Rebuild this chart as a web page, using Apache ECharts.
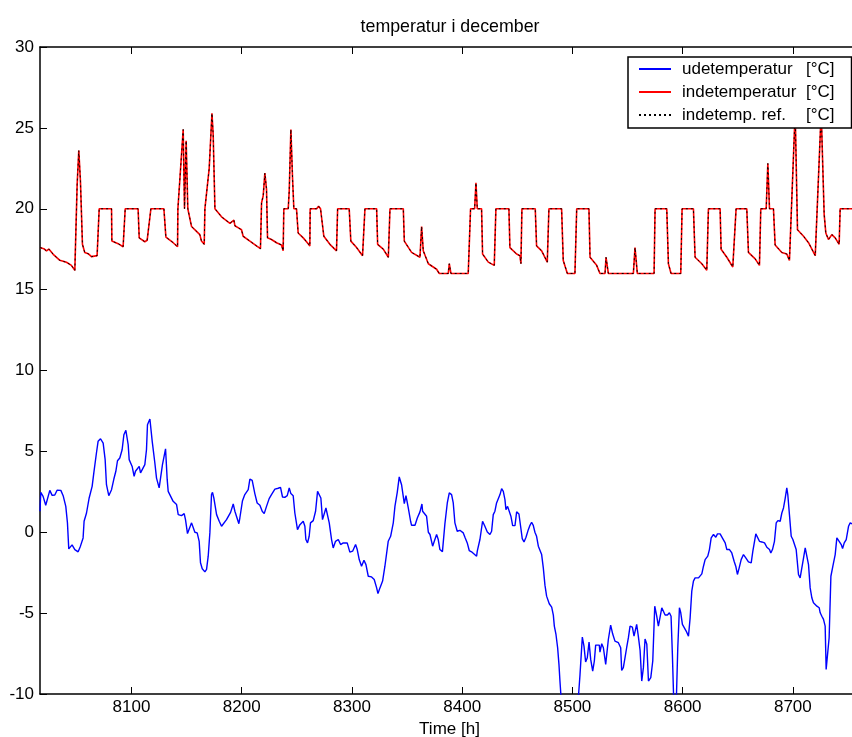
<!DOCTYPE html>
<html>
<head>
<meta charset="utf-8">
<title>temperatur i december</title>
<script src="https://cdn.jsdelivr.net/npm/echarts@6/dist/echarts.min.js"></script>
<style>
  html, body { margin: 0; padding: 0; background: #fff; }
  #chart { width: 852px; height: 737px; }
</style>
</head>
<body>
<div id="chart"></div>
<script>
// Hour of the year (December = 8017 .. 8760) and temperatures in °C.
const outdoorHours = [
  8017, 8017.7, 8019.8, 8022.2, 8025.9, 8028, 8030.4, 8032.5, 8034.3, 8035.9,
  8038, 8040.4, 8041.9, 8043.1, 8044.6, 8046.1, 8048.6, 8051.6, 8053.7, 8056.1,
  8057, 8059.2, 8061.6, 8064.3, 8065.8, 8067, 8068.2, 8069.7, 8071.9, 8074.3,
  8076.1, 8077.3, 8079.4, 8081.9, 8084, 8085.8, 8087.3, 8089.4, 8091.5, 8093.1,
  8094.9, 8097, 8097.9, 8100.6, 8102.4, 8103.6, 8107, 8108.2, 8110, 8112.1,
  8113.6, 8114.5, 8116.7, 8118.8, 8121.2, 8122.7, 8125.1, 8126.3, 8128.1, 8130.9,
  8132.4, 8133.3, 8134.2, 8137.8, 8140.9, 8142.4, 8145.4, 8147.8, 8149, 8150.8,
  8152.4, 8154.5, 8156, 8157.5, 8159.6, 8161.4, 8162.6, 8164.2, 8166.6, 8168.1,
  8169.6, 8171.1, 8172.6, 8173.5, 8174.7, 8177.2, 8179.6, 8181.7, 8183.2, 8186.2,
  8189.9, 8192.3, 8193.8, 8197.4, 8198.3, 8200.7, 8202.8, 8205.9, 8207.4, 8209.5,
  8211.9, 8214, 8216.5, 8218.6, 8220.4, 8222.5, 8224.9, 8227, 8230.1, 8233.1,
  8235.2, 8237, 8239.1, 8241.3, 8243.1, 8244.6, 8246.7, 8248.2, 8250.6, 8252.8,
  8255.8, 8257.3, 8258.2, 8259.7, 8261.2, 8262.4, 8264.9, 8267, 8268.8, 8270,
  8271.8, 8273.3, 8274.5, 8276.4, 8278.2, 8279.4, 8281.5, 8283, 8285.1, 8287.6,
  8289.7, 8292.1, 8293.6, 8295.7, 8298.1, 8300.6, 8303.3, 8304.8, 8306.6, 8308.7,
  8310.9, 8312.7, 8314.8, 8317.8, 8320.2, 8322.4, 8323.6, 8325.4, 8327.8, 8329.9,
  8332.9, 8335.1, 8337.5, 8339, 8341.1, 8342.9, 8345, 8347.5, 8349, 8351.1,
  8353.2, 8354.1, 8357.2, 8359.3, 8361.7, 8363.5, 8364.1, 8367.7, 8369.3, 8370.8,
  8373.2, 8374.7, 8376.8, 8378.3, 8379.8, 8382.1, 8384.3, 8386.5, 8388.3, 8390.4,
  8391.9, 8393.4, 8395.5, 8397.9, 8401, 8402.5, 8404.6, 8406.4, 8408.5, 8410.1,
  8413.1, 8413.7, 8416.1, 8418.5, 8420.6, 8422.8, 8425.2, 8426.7, 8428.2, 8429.7,
  8431.2, 8432.7, 8434.3, 8435.8, 8437.3, 8438.8, 8439.7, 8441.2, 8442.7, 8444.2,
  8445.8, 8447.9, 8449.4, 8451.5, 8453, 8454.5, 8456.1, 8457.9, 8460, 8461.5,
  8463, 8464.5, 8466, 8467.5, 8469.1, 8472.1, 8473.6, 8475.1, 8476.6, 8479,
  8481.2, 8482.7, 8483.6, 8485.1, 8486.6, 8487.8, 8488.7, 8490.5, 8497, 8504.8,
  8506.9, 8509, 8510.5, 8512, 8513.5, 8515.1, 8516.6, 8518.4, 8519.9, 8521.1,
  8522.6, 8524.4, 8525, 8526.6, 8528.1, 8530.2, 8532.6, 8534.7, 8536.5, 8538.6,
  8541.7, 8543.8, 8544.7, 8546.2, 8547.7, 8549.2, 8550.8, 8552.3, 8554.4, 8555.9,
  8558.3, 8559.8, 8561.4, 8562.9, 8564.4, 8565.9, 8567.5, 8569, 8571.1, 8572.9,
  8574.7, 8576.5, 8578, 8579.5, 8581.1, 8582.6, 8584.1, 8586.2, 8588, 8589.5,
  8590.7, 8592, 8594.2, 8595.6, 8597.1, 8598.3, 8599.8, 8601.6, 8603.2, 8605.3,
  8606.8, 8608.3, 8609.8, 8611.3, 8614.4, 8617.4, 8618.9, 8620.4, 8622.8, 8624.3,
  8625.9, 8628, 8630.1, 8631.6, 8634, 8636.4, 8638.6, 8640.1, 8642.5, 8644.6,
  8646.7, 8648.2, 8649.7, 8651.3, 8653.1, 8655.2, 8657.3, 8659.7, 8662.2, 8663.7,
  8665.2, 8666.4, 8667.9, 8669.7, 8671.8, 8674.3, 8676.4, 8678.8, 8680, 8681.5,
  8683.3, 8684.9, 8686.4, 8688.5, 8690, 8691.5, 8693, 8694.5, 8695.4, 8696.9,
  8698.5, 8700, 8701.5, 8703, 8705.1, 8706.6, 8708.1, 8709.7, 8711.2, 8712.7,
  8714.2, 8715.7, 8717.2, 8718.7, 8721.8, 8723.9, 8724.8, 8726.3, 8727.8, 8729.3,
  8730.2, 8731.4, 8732.9, 8734.5, 8736.3, 8738.4, 8739.9, 8742, 8743.9, 8745.1,
  8746.6, 8748.4, 8750.5, 8752, 8753.8
];
const outdoorTemp = [
  1.3, 2.47, 2.22, 1.67, 2.59, 2.28, 2.3, 2.6, 2.53, 2.59,
  2.26, 1.6, 0.58, -1.03, -1.03, -0.78, -1.07, -1.21, -0.86, -0.35,
  0.68, 1.19, 2.12, 2.84, 3.66, 3.77, 4.9, 5.62, 5.78, 5.51,
  4.49, 2.94, 2.26, 2.63, 3.29, 3.77, 4.42, 4.59, 5.1, 6.03,
  6.3, 5.41, 4.49, 4.07, 3.46, 3.77, 4.07, 3.67, 3.56, 4.18,
  5.1, 6.65, 7.0, 5.62, 4.28, 3.35, 2.74, 2.74, 4.18, 5.16,
  3.25, 2.53, 2.63, 1.91, 1.71, 1.09, 1.03, 1.15, 0.78, -0.08,
  0, 0.58, 0.47, 0, -0.04, -0.56, -1.89, -2.26, -2.45, -2.3,
  -1.48, -0.04, 2.33, 2.47, 2.12, 1.09, 0.68, 0.37, 0.47, 0.78,
  1.23, 1.75, 1.3, 0.53, 0.88, 1.95, 2.33, 2.63, 3.29, 3.21,
  2.39, 1.81, 1.67, 1.3, 1.15, 1.6, 2.08, 2.33, 2.67, 2.72,
  2.78, 2.18, 2.16, 2.26, 2.74, 2.39, 2.26, 1.19, 0.16, 0.47,
  0.68, 0.37, -0.45, -0.66, -0.25, 0.58, 0.72, 1.3, 2.53, 2.63,
  2.12, 0.78, 0.74, 1.5, 1.6, 0.58, -0.45, -0.97, -0.56, -0.45,
  -0.76, -0.66, -0.62, -0.66, -1.23, -1.17, -0.76, -1.07, -1.69, -2.1,
  -1.73, -2.0, -2.72, -2.76, -2.92, -3.44, -3.79, -3.44, -3.02, -2.1,
  -0.56, -0.25, 0.58, 1.6, 2.47, 3.42, 2.94, 1.77, 2.26, 1.5,
  0.68, 0.43, 0.43, 0.88, 1.26, 1.75, 1.3, 0.99, 0, -0.14,
  -0.86, -0.56, -0.14, -0.45, -1.07, -1.2, 0.5, 1.81, 2.43, 2.33,
  1.81, 0.58, 0.06, 0.12, -0.04, -0.31, -0.66, -1.13, -1.21, -1.17,
  -1.48, -1.17, -0.45, 0.68, 0.37, 0.02, -0.14, 0.06, 1.09, 1.3,
  1.81, 1.81, 2.33, 2.7, 2.53, 2.02, 1.4, 1.6, 1.71, 0.99,
  0.41, 0.41, 1.26, 1.13, 0.37, -0.39, -0.6, -0.31, 0.16, 0.43,
  0.62, 0.43, 0, -0.25, -0.86, -1.38, -2.2, -3.27, -3.95, -4.42,
  -4.63, -5.12, -5.8, -6.32, -7.14, -8.17, -9.2, -11, -12, -10.8,
  -8.8, -6.48, -7.04, -8.02, -7.76, -6.79, -7.86, -8.58, -7.96, -6.98,
  -6.93, -6.98, -7.41, -6.89, -7.14, -8.17, -6.63, -5.74, -6.28, -6.73,
  -6.83, -7.14, -8.54, -8.37, -7.76, -7.14, -6.52, -5.8, -5.86, -6.42,
  -5.7, -6.42, -7.3, -9.2, -8.37, -6.6, -6.93, -9.2, -8.99, -7.96,
  -4.57, -5.19, -5.8, -5.8, -4.67, -4.71, -5.12, -5.12, -4.98, -5.19,
  -7.55, -10.6, -10.6, -7.14, -4.67, -4.98, -5.7, -5.8, -6.11, -6.42,
  -5.29, -3.64, -3.02, -2.82, -2.82, -2.57, -2.1, -1.69, -1.48, -1.07,
  -0.35, -0.14, -0.31, -0.1, -0.1, -0.39, -0.66, -1.07, -1.07, -1.28,
  -1.79, -2.1, -2.61, -2.2, -1.69, -1.38, -1.58, -1.83, -1.89, -1.17,
  -1.07, -0.1, -0.1, -0.56, -0.6, -0.66, -0.93, -1.07, -1.28, -1.07,
  -0.56, 0.58, 0.72, 0.68, 1.19, 1.5, 2.08, 2.74, 2.33, 1.09,
  -0.25, -0.45, -0.39, -1.07, -2.61, -2.82, -2.72, -1.58, -0.97, -1.01,
  -2.0, -3.44, -4.05, -4.36, -4.57, -4.67, -4.98, -5.19, -5.39, -5.8,
  -8.48, -8.37, -6.52, -2.72, -2.1, -1.38, -0.35, -0.56, -0.76, -1.01,
  -0.66, -0.45, 0.37, 0.58, 0.51
];

const indoorHours = [
  8017, 8020.4, 8022.9, 8025, 8029, 8035, 8041, 8045.5, 8048.6, 8050.7,
  8052.2, 8053.7, 8055.5, 8057.6, 8060.7, 8063.7, 8068.8, 8070.7, 8081.9, 8082.2,
  8087.9, 8092.4, 8094.3, 8106, 8107, 8112.1, 8114.2, 8117.6, 8129.4, 8131.2,
  8137.8, 8141.8, 8142.1, 8143.9, 8146.9, 8148.1, 8149.6, 8151.1, 8152.3, 8154.5,
  8159, 8162, 8163.5, 8166, 8166.6, 8168.1, 8170.5, 8173, 8174.1, 8175.7,
  8181.7, 8189.3, 8192.9, 8193.8, 8197.4, 8199.8, 8201.3, 8207.4, 8213.4, 8217,
  8218, 8219.5, 8221, 8222.5, 8223.4, 8227, 8231.6, 8236.1, 8237.6, 8238.2,
  8242.2, 8243.1, 8244.6, 8246.1, 8247.3, 8249.7, 8251.2, 8255.8, 8260.3, 8261.8,
  8262.1, 8268, 8269.7, 8271.5, 8274.5, 8280, 8286, 8287, 8297.5, 8299,
  8304.2, 8309.6, 8311.8, 8322.4, 8323.3, 8328.4, 8333, 8334.5, 8346.6, 8347.5,
  8354.1, 8361.7, 8363.2, 8364.7, 8369.3, 8376.8, 8379.2, 8387.4, 8388.3, 8389.8,
  8405.5, 8407.6, 8411.3, 8412.5, 8413.7, 8417.6, 8418.5, 8423.7, 8429.1, 8430.6,
  8442.4, 8443.3, 8449.4, 8452.4, 8453.3, 8454.2, 8466.3, 8467.5, 8472.1, 8477.2,
  8478.7, 8490.2, 8491.7, 8495.4, 8502.3, 8503.9, 8515, 8516, 8522, 8525,
  8529.6, 8530.5, 8532.6, 8555.3, 8556.8, 8558.9, 8574.1, 8575, 8585.6, 8587.1,
  8589.5, 8598.3, 8599.5, 8609.8, 8611.3, 8617.4, 8621.9, 8623.4, 8634, 8634.9,
  8640.1, 8645.5, 8648.5, 8658.2, 8659.7, 8665.8, 8669.7, 8670.9, 8675.8, 8677.3,
  8678.8, 8682.4, 8683.9, 8690, 8694.5, 8696.9, 8702.1, 8704.2, 8709.7, 8714.2,
  8720.3, 8725.7, 8728.4, 8729.9, 8732.3, 8735.4, 8738.4, 8742, 8742.9, 8760
];
const indoorTemp = [
  17.6, 17.53, 17.39, 17.51, 17.18, 16.81, 16.69, 16.5, 16.19, 21.5,
  23.6, 21.7, 17.8, 17.3, 17.22, 17.04, 17.1, 20, 20, 18.0,
  17.84, 17.65, 20, 20, 18.2, 17.96, 18.05, 20, 20, 18.25,
  17.9, 17.65, 20, 20, 24.9, 20, 24.2, 20, 19.9, 18.9,
  18.6, 18.4, 18.0, 17.8, 20, 20.05, 22.5, 25.9, 24.6, 20,
  19.5, 19.1, 19.3, 18.95, 18.8, 18.7, 18.3, 18.0, 17.7, 17.53,
  20.37, 20.8, 22.2, 21.2, 18.2, 18.1, 17.9, 17.76, 17.4, 20,
  20, 21.1, 24.9, 21.9, 20, 20, 18.5, 18.2, 17.84, 17.7,
  20, 20, 20.16, 20, 18.3, 17.8, 17.4, 20, 20, 18.0,
  17.6, 17.1, 20, 20, 17.8, 17.5, 17.0, 20, 20, 18.0,
  17.3, 17.0, 18.9, 17.4, 16.6, 16.26, 16.0, 16, 16.6, 16,
  16, 20, 20, 21.6, 20, 20, 17.2, 16.7, 16.5, 20,
  20, 17.6, 17.2, 17.1, 16.6, 20, 20, 17.7, 17.4, 16.7,
  20, 20, 16.8, 16, 16, 20, 20, 17.0, 16.5, 16,
  16, 17, 16, 16, 17.6, 16, 16, 20, 20, 16.6,
  16, 16, 20, 20, 17.0, 16.6, 16.2, 20, 20, 17.5,
  17.0, 16.4, 20, 20, 17.3, 16.9, 16.5, 20, 20, 22.8,
  20, 20, 17.76, 17.3, 17.2, 16.8, 26, 18.7, 18.3, 17.9,
  17.1, 26, 19.65, 18.5, 18.1, 18.4, 18.2, 17.8, 20, 20
];
// The reference set-point trace follows the measured indoor temperature.
const indoorRefTemp = indoorTemp;

const xTickValues = [8100, 8200, 8300, 8400, 8500, 8600, 8700];
const seriesNames = ['udetemperatur  [°C]', 'indetemperatur [°C]', 'indetemp. ref.   [°C]'];

const pairs = (xs, ys) => xs.map((x, i) => [x, ys[i]]);

const FONT = 'Arial, "Liberation Sans", Helvetica, sans-serif';
const tickStyle = { inside: true, length: 7, lineStyle: { color: '#000', width: 1 } };
const axisLineStyle = { show: true, onZero: false, lineStyle: { color: '#000', width: 1.5 } };

const chart = echarts.init(document.getElementById('chart'), null, { renderer: 'canvas' });
chart.setOption({
  animation: false,
  backgroundColor: '#fff',
  title: {
    text: 'temperatur i december',
    left: 445,
    textAlign: 'center',
    top: 13,
    textStyle: { fontFamily: FONT, fontSize: 17.8, fontWeight: 'normal', color: '#000' }
  },
  grid: {
    left: 40, top: 47, width: 819, height: 647,
    containLabel: false, outerBoundsMode: 'none'
  },
  legend: {
    orient: 'vertical',
    left: 628, top: 57,
    padding: [2, 17, 3, 10],
    itemWidth: 32, itemHeight: 12, itemGap: 3,
    borderColor: '#000', borderWidth: 1.5, backgroundColor: '#fff',
    itemStyle: { opacity: 0 },
    data: seriesNames,
    formatter: (name) => {
      const i = name.indexOf('[');
      return '{n|' + name.slice(0, i).trim() + '}{u|' + name.slice(i) + '}';
    },
    textStyle: {
      fontFamily: FONT, fontSize: 17, color: '#000', lineHeight: 20,
      rich: {
        n: { fontFamily: FONT, fontSize: 17, width: 124, padding: [0, 0, 0, 6] },
        u: { fontFamily: FONT, fontSize: 17 }
      }
    }
  },
  xAxis: [{
    type: 'value', position: 'bottom', min: 8017, max: 8760,
    name: 'Time [h]', nameLocation: 'middle', nameGap: 27,
    nameTextStyle: { fontFamily: FONT, fontSize: 17, color: '#000' },
    axisLine: axisLineStyle,
    axisTick: Object.assign({ customValues: xTickValues }, tickStyle),
    axisLabel: {
      customValues: xTickValues, margin: 5, fontFamily: FONT, fontSize: 17, color: '#000',
      formatter: (v) => String(v)
    },
    splitLine: { show: false }
  }, {
    type: 'value', position: 'top', min: 8017, max: 8760,
    axisLine: axisLineStyle,
    axisTick: Object.assign({ customValues: xTickValues }, tickStyle),
    axisLabel: { show: false },
    splitLine: { show: false }
  }],
  yAxis: [{
    type: 'value', position: 'left', min: -10, max: 30, interval: 5,
    axisLine: axisLineStyle,
    axisTick: tickStyle,
    axisLabel: { margin: 6, fontFamily: FONT, fontSize: 17, color: '#000' },
    splitLine: { show: false }
  }, {
    type: 'value', position: 'right', min: -10, max: 30, interval: 5,
    axisLine: axisLineStyle,
    axisTick: tickStyle,
    axisLabel: { show: false },
    splitLine: { show: false }
  }],
  series: [{
    name: seriesNames[0], type: 'line', symbol: 'none',
    lineStyle: { color: '#0000ff', width: 1.4 }, itemStyle: { color: '#0000ff' },
    data: pairs(outdoorHours, outdoorTemp)
  }, {
    name: seriesNames[1], type: 'line', symbol: 'none',
    lineStyle: { color: '#ff0000', width: 1.6 }, itemStyle: { color: '#ff0000' },
    data: pairs(indoorHours, indoorTemp)
  }, {
    name: seriesNames[2], type: 'line', symbol: 'none',
    lineStyle: { color: '#000', width: 1, type: [2, 3] }, itemStyle: { color: '#000' },
    data: pairs(indoorHours, indoorRefTemp)
  }]
});
</script>
</body>
</html>
